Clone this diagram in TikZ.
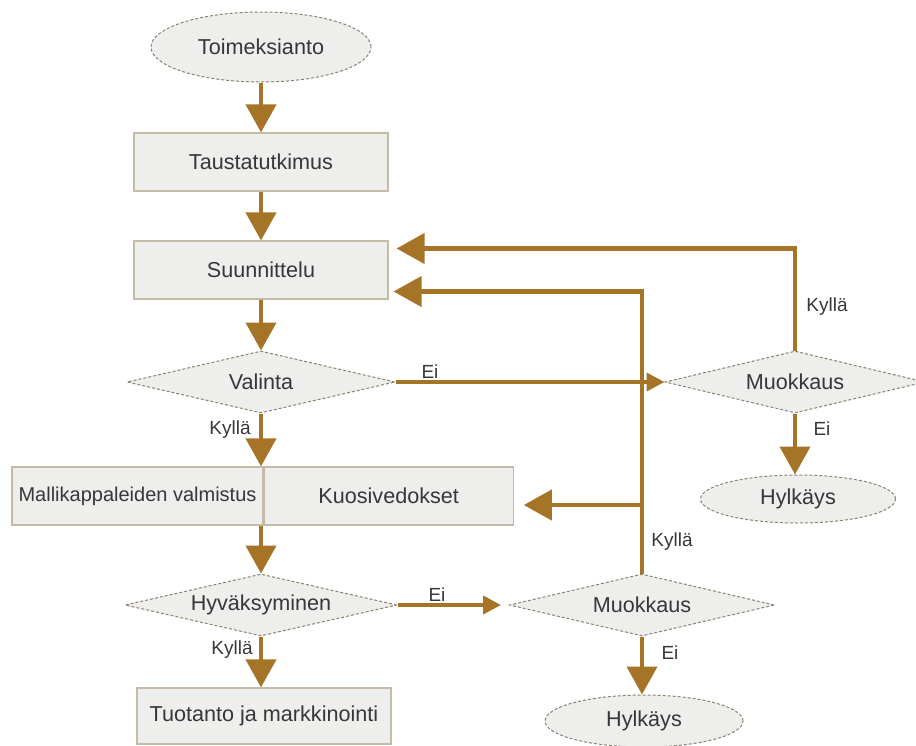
\documentclass[tikz,border=0pt]{standalone}
\usepackage{fontspec}
\setmainfont{Liberation Sans}
\usepackage{tikz}
\usetikzlibrary{shapes.geometric,arrows.meta,positioning}
\definecolor{flowbrown}{RGB}{166,116,38}
\definecolor{shapefill}{RGB}{238,238,236}
\definecolor{boxline}{RGB}{196,186,166}
\definecolor{dashline}{RGB}{140,130,112}
\definecolor{inktext}{RGB}{55,55,55}

\begin{document}
\begin{tikzpicture}[x=0.5pt, y=-0.5pt, font=\fontsize{10.8}{13}\selectfont, text=inktext]
\tikzstyle{proc}=[rectangle, draw=boxline, line width=0.6pt, fill=shapefill, minimum width=127pt, minimum height=29pt, inner xsep=2pt]
\tikzstyle{term}=[ellipse, draw=dashline, dash pattern=on 1.5pt off 1pt, line width=0.5pt, fill=shapefill]
\tikzstyle{decision}=[diamond, aspect=4.3, draw=dashline, dash pattern=on 1.5pt off 1pt, line width=0.5pt, fill=shapefill, inner sep=0pt, minimum height=31pt]
\tikzstyle{flow}=[draw=flowbrown, line width=2.1pt, -{Triangle[length=14pt, width=15pt]}]
\tikzstyle{flowsmall}=[draw=flowbrown, line width=2pt, -{Triangle[length=9pt, width=9pt]}]
\tikzstyle{answer}=[font=\fontsize{9.5}{11}\selectfont, inner sep=1pt]
  \useasboundingbox (0,0) rectangle (916,745);
  % main column
  \node[term, minimum width=110pt, minimum height=35pt] (start) at (261,47) {Toimeksianto};
  \node[proc] (tausta) at (261,162) {Taustatutkimus};
  \node[proc] (suunn) at (261,270) {Suunnittelu};
  \node[decision, minimum width=134pt] (valinta) at (261,382) {Valinta};
  \node[proc, minimum width=125.5pt, font=\fontsize{10}{12}\selectfont] (malliL) at (137.5,496) {Mallikappaleiden valmistus};
  \node[proc, minimum width=124.5pt, right=0pt of malliL] (malliR) {Kuosivedokset};
  \node[decision, minimum width=136pt] (hyvaks) at (261,605) {Hyväksyminen};
  \node[proc, minimum height=28pt] (tuotanto) at (264,716) {Tuotanto ja markkinointi};
  % right side
  \node[decision, minimum width=130pt] (muok1) at (795,382) {Muokkaus};
  \node[term, minimum width=97.5pt, minimum height=24pt] (hylk1) at (798,499) {Hylkäys};
  \node[decision, minimum width=132.5pt] (muok2) at (642,605) {Muokkaus};
  \node[term, minimum width=99pt, minimum height=26pt] (hylk2) at (644,721) {Hylkäys};
  \coordinate (haara) at (642,505);
  % connectors
  \draw[flow] (start) -- (tausta);
  \draw[flow] (tausta) -- (suunn);
  \draw[flow] (suunn) -- (valinta);
  \draw[flow] (valinta.south) -- (valinta.south |- malliL.north);
  \draw[flow] (valinta.south |- malliL.south) -- (hyvaks.north);
  \draw[flow] (hyvaks.south) -- (hyvaks.south |- tuotanto.north);
  \draw[flowsmall] (valinta.east) -- (muok1.west);
  \draw[flowsmall, shorten >=4pt] (hyvaks.east) -- (muok2.west);
  \draw[flow, shorten >=4pt] (muok1.north) |- ([yshift=10.75pt]suunn.east);
  \draw[flow, shorten >=2.5pt] (muok2.north) |- ([yshift=-10.75pt]suunn.east);
  \draw[flow, shorten >=5pt] (haara) -- (malliR.east |- haara);
  \draw[flow] (muok1.south) -- (muok1.south |- hylk1.north);
  \draw[flow] (muok2.south) -- (muok2.south |- hylk2.north);
  % answers
  \node[answer] (eiV) at (430,372) {Ei};
  \node[answer] (kyllaV) at (230,430) {Kyllä};
  \node[answer] (kyllaM1) at (827,307) {Kyllä};
  \node[answer] (eiM1) at (822,429) {Ei};
  \node[answer] (kyllaM2) at (672,542) {Kyllä};
  \node[answer] (eiM2) at (670,653) {Ei};
  \node[answer] (eiH) at (437,595) {Ei};
  \node[answer] (kyllaH) at (232,650) {Kyllä};
\end{tikzpicture}
\end{document}
